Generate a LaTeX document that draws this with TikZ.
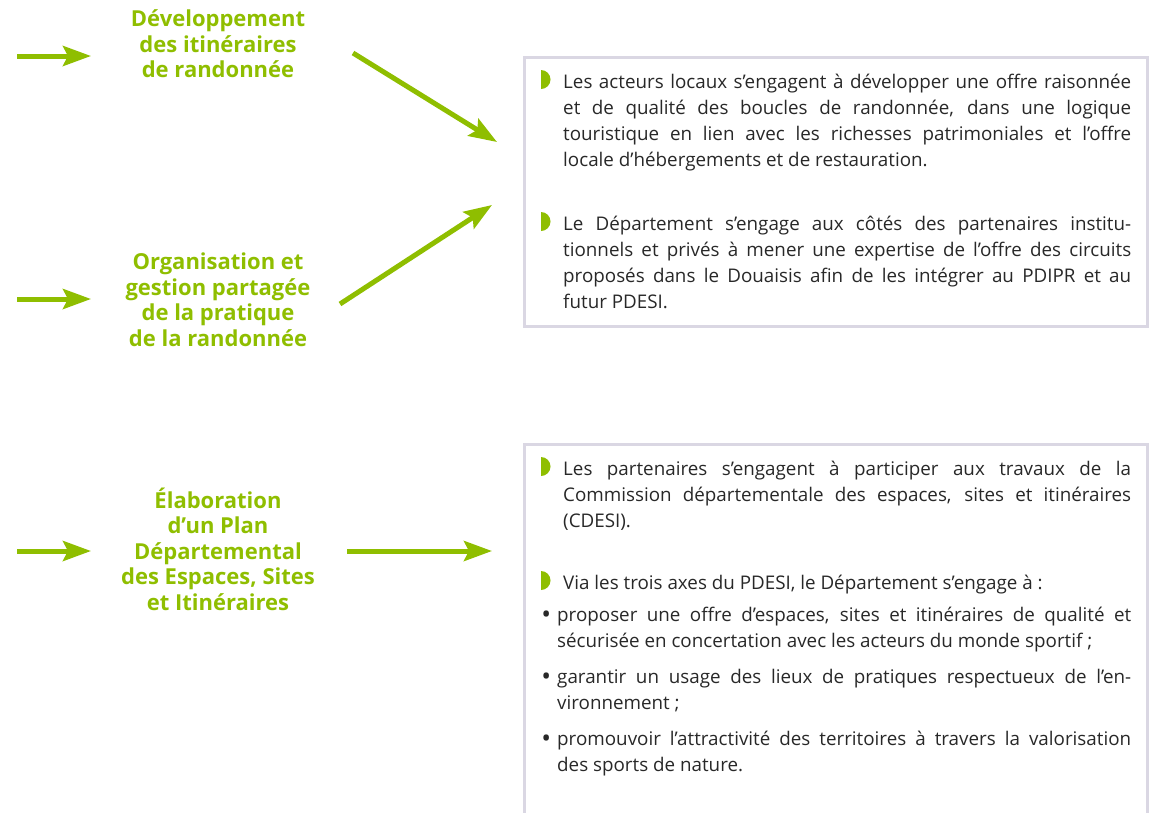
\documentclass[tikz,border=0pt]{standalone}
\usepackage{fontspec}
\setmainfont{Open Sans}
\usetikzlibrary{arrows.meta}
\definecolor{vert}{RGB}{143,190,0}
\definecolor{cadre}{RGB}{218,215,227}
\definecolor{texte}{RGB}{40,40,40}
\newcommand\jline[1]{\makebox[568pt][s]{#1}}
\newcommand\jitem[1]{\makebox[574pt][s]{#1}}
\newcommand\htop[1]{\rule{0pt}{#1}}
\newcommand\puceronde{\llap{\raisebox{-2.5pt}{\fontsize{26}{26}\selectfont •}\hspace{6pt}}}
\begin{document}
\begin{tikzpicture}[x=1pt,y=-1pt,
  fleche/.style={draw=vert, line width=5pt, -{Stealth[length=28pt,width=20pt,inset=5pt]}},
  titre/.style={text=vert, font=\bfseries\fontsize{22}{25.5}\selectfont, align=center, inner sep=0pt, anchor=north},
  corps/.style={text=texte, font=\fontsize{18.8}{26}\selectfont, align=left, inner sep=0pt, anchor=north west},
  cadrebox/.style={draw=cadre, line width=2.5pt, anchor=north west, inner sep=0pt},
  puce/.style={fill=vert}]
\useasboundingbox (0,0) rectangle (1153,812);

% boxes
\node[cadrebox, minimum width=623pt, minimum height=269pt] (b1) at (523,56) {};
\node[cadrebox, minimum width=623pt, minimum height=420pt] (b2) at (523,443) {};

% headings
\node[titre] (h1) at (218,26.5-24) {\htop{24pt}Développement\\des itinéraires\\de randonnée};
\node[titre] (h2) at (218,269.5-24) {\htop{24pt}Organisation et\\gestion partagée\\de la pratique\\de la randonnée};
\node[titre] (h3) at (218,508-24) {\htop{24pt}Élaboration\\d’un Plan\\Départemental\\des Espaces, Sites\\et Itinéraires};

% arrow coordinates
\coordinate (a1s) at (17,56);   \coordinate (a1e) at (91,56);
\coordinate (a2s) at (17,299);  \coordinate (a2e) at (91,299);
\coordinate (a3s) at (17,551);  \coordinate (a3e) at (91,551);
\coordinate (d1s) at (353,53);  \coordinate (d1e) at (497,142);
\coordinate (d2s) at (340,304); \coordinate (d2e) at (492,205);
\coordinate (a4s) at (347,551); \coordinate (a4e) at (492,551);

\draw[fleche] (a1s) -- (a1e);
\draw[fleche] (a2s) -- (a2e);
\draw[fleche] (a3s) -- (a3e);
\draw[fleche] (d1s) -- (d1e);
\draw[fleche] (d2s) -- (d2e);
\draw[fleche] (a4s) -- (a4e);

% D-shaped bullets
\fill[puce] (541,70) arc[start angle=-90,end angle=90,radius=9.5] -- cycle;
\fill[puce] (541,212) arc[start angle=-90,end angle=90,radius=9.5] -- cycle;
\fill[puce] (541,457) arc[start angle=-90,end angle=90,radius=9.5] -- cycle;
\fill[puce] (541,571) arc[start angle=-90,end angle=90,radius=9.5] -- cycle;

% box 1 text
\node[corps] (p1) at (563,88-20) {\htop{20pt}\jline{Les acteurs locaux s’engagent à développer une offre raisonnée}\\
\jline{et de qualité des boucles de randonnée, dans une logique}\\
\jline{touristique en lien avec les richesses patrimoniales et l’offre}\\
locale d’hébergements et de restauration.};
\node[corps] (p2) at (563,230-20) {\htop{20pt}\jline{Le Département s’engage aux côtés des partenaires institu-}\\
\jline{tionnels et privés à mener une expertise de l’offre des circuits}\\
\jline{proposés dans le Douaisis afin de les intégrer au PDIPR et au}\\
futur PDESI.};

% box 2 text
\node[corps] (p3) at (563,475-20) {\htop{20pt}\jline{Les partenaires s’engagent à participer aux travaux de la}\\
\jline{Commission départementale des espaces, sites et itinéraires}\\
(CDESI).};
\node[corps] (p4) at (563,589-20) {\htop{20pt}Via les trois axes du PDESI, le Département s’engage à :};
\node[corps] (i1) at (557,621-20) {\htop{20pt}\puceronde\jitem{proposer une offre d’espaces, sites et itinéraires de qualité et}\\
sécurisée en concertation avec les acteurs du monde sportif ;};
\node[corps] (i2) at (557,683-20) {\htop{20pt}\puceronde\jitem{garantir un usage des lieux de pratiques respectueux de l’en-}\\
vironnement ;};
\node[corps] (i3) at (557,745-20) {\htop{20pt}\puceronde\jitem{promouvoir l’attractivité des territoires à travers la valorisation}\\
des sports de nature.};
\end{tikzpicture}
\end{document}
